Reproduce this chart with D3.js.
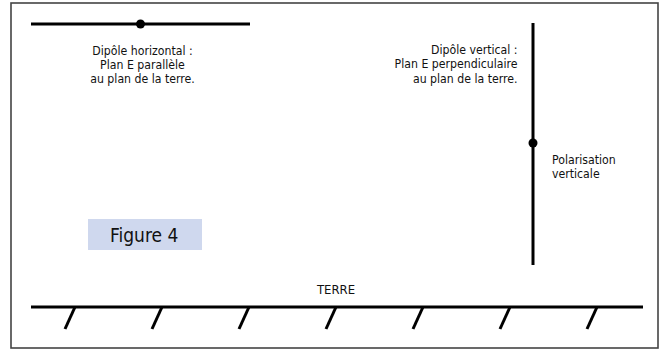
<!DOCTYPE html>
<html>
<head>
<meta charset="utf-8">
<script src="https://cdn.jsdelivr.net/npm/d3@7"></script>
<style>
  html, body { margin: 0; padding: 0; background: #fff; }
  svg { display: block; }
  text { font-family: "DejaVu Sans Condensed", "Liberation Sans Narrow", sans-serif; fill: #111; }
</style>
</head>
<body>
<svg id="chart" width="660" height="350"></svg>
<script>
// ---- data ----
const horizontalLabel = ["Dipôle horizontal :", "Plan E parallèle", "au plan de la terre."];
const verticalLabel = ["Dipôle vertical :", "Plan E perpendiculaire", "au plan de la terre."];
const polarisationLabel = ["Polarisation", "verticale"];
const groundLabel = ["TERRE"];
const figureLabel = ["Figure 4"];
const groundHashes = [0, 1, 2, 3, 4, 5, 6];
// dipole extents in diagram units (top = 0)
const horizontalDipole = [0, 35.8];   // x start, x end
const horizontalFeed = [17.9];
const verticalDipole = [0, 100];      // y start, y end
const verticalFeed = [49.6];

// ---- scales ----
const svg = d3.select("#chart");
const xH = d3.scaleLinear().domain([0, 35.8]).range([31, 250]);
const yV = d3.scaleLinear().domain([0, 100]).range([23, 265]);
const xHash = d3.scaleLinear().domain([0, 6]).range([75, 597]);

// frame
svg.append("rect")
  .attr("x", 11).attr("y", 3).attr("width", 647).attr("height", 345)
  .attr("fill", "none").attr("stroke", "#444").attr("stroke-width", 1.6);

// horizontal dipole
svg.append("line")
  .attr("x1", xH(horizontalDipole[0])).attr("x2", xH(horizontalDipole[1]))
  .attr("y1", 24).attr("y2", 24)
  .attr("stroke", "#000").attr("stroke-width", 3);
svg.selectAll(".hfeed").data(horizontalFeed).join("circle")
  .attr("cx", d => xH(d)).attr("cy", 24).attr("r", 4.5).attr("fill", "#000");

// vertical dipole
svg.append("line")
  .attr("x1", 533).attr("x2", 533)
  .attr("y1", yV(verticalDipole[0])).attr("y2", yV(verticalDipole[1]))
  .attr("stroke", "#000").attr("stroke-width", 3);
svg.selectAll(".vfeed").data(verticalFeed).join("circle")
  .attr("cx", 533).attr("cy", d => yV(d)).attr("r", 4.5).attr("fill", "#000");

// labels: one text element per block, lines as tspans
function block(lines, x, y0, anchor, size, lh) {
  svg.append("text")
    .attr("x", x).attr("y", y0)
    .attr("text-anchor", anchor)
    .attr("font-size", size)
    .selectAll("tspan").data(lines).join("tspan")
    .attr("x", x)
    .attr("y", (d, i) => y0 + i * lh)
    .text(d => d);
}
block(horizontalLabel, 142.5, 54.5, "middle", 12.2, 14.3);
block(verticalLabel, 517.5, 54, "end", 12.2, 14.3);
block(polarisationLabel, 552, 163.5, "start", 12.2, 14.3);

// figure tag
svg.append("rect")
  .attr("x", 88).attr("y", 219).attr("width", 114).attr("height", 31)
  .attr("fill", "#cfd8ee");
block(figureLabel, 110, 242, "start", 19, 20);

// ground
block(groundLabel, 336, 294, "middle", 13, 13);
svg.append("line")
  .attr("x1", 31).attr("x2", 643).attr("y1", 307).attr("y2", 307)
  .attr("stroke", "#000").attr("stroke-width", 3);
svg.selectAll(".hash").data(groundHashes).join("line")
  .attr("x1", d => xHash(d)).attr("y1", 307)
  .attr("x2", d => xHash(d) - 10).attr("y2", 329)
  .attr("stroke", "#000").attr("stroke-width", 3);
</script>
</body>
</html>
